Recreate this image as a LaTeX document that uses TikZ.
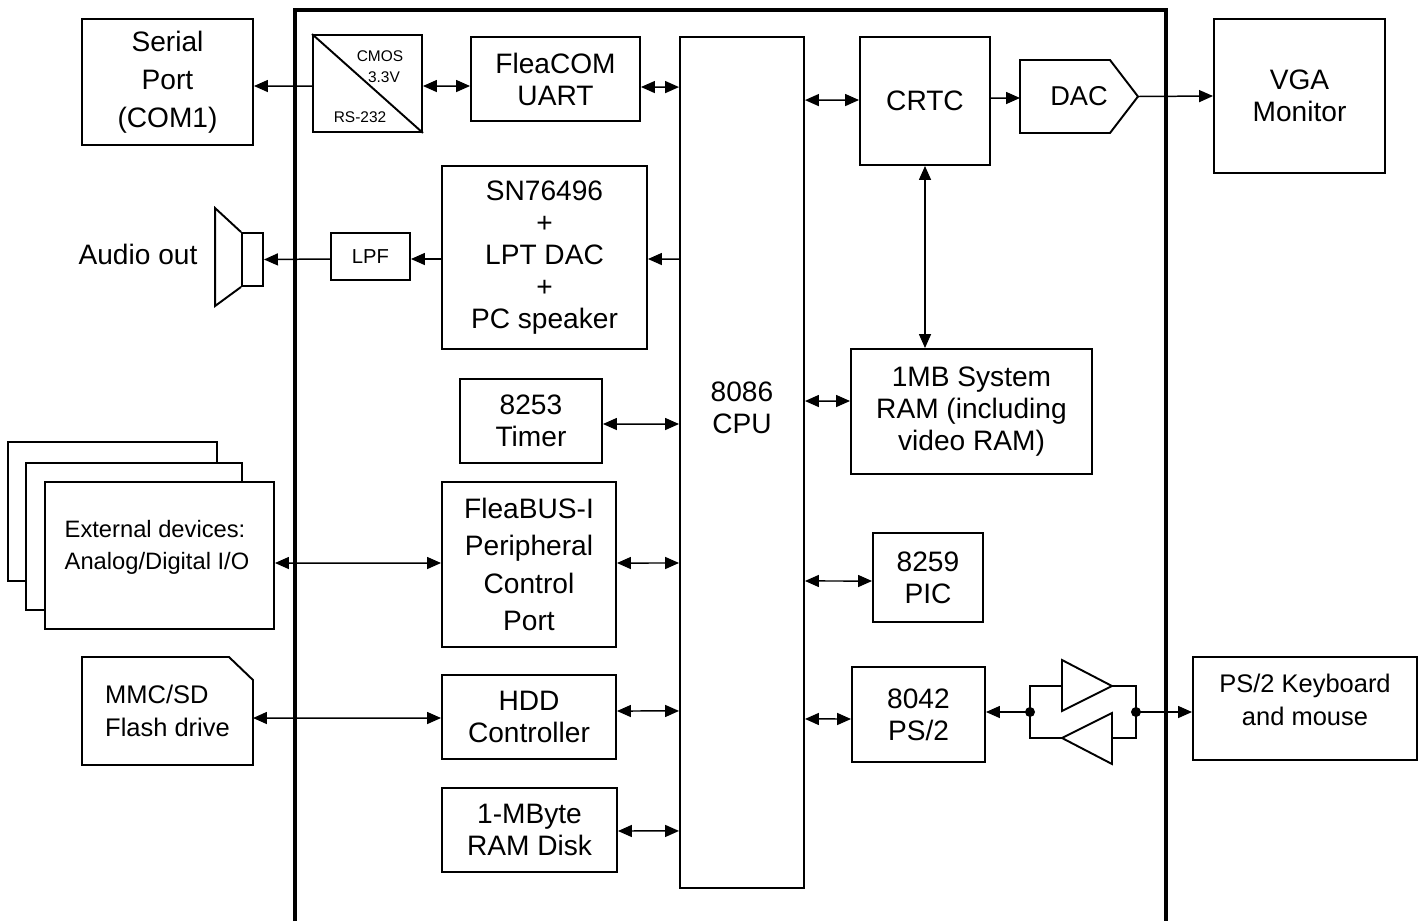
\documentclass[tikz,border=0pt]{standalone}
\usepackage{fontspec}
\setmainfont{Liberation Sans}
\usetikzlibrary{arrows.meta}
\tikzset{
  blk/.style={draw, line width=1.1pt, align=center, inner sep=0pt,
    font=\fontsize{16}{18.2}\selectfont},
  plain/.style={inner sep=0pt, outer sep=0pt, align=center},
  >={Triangle[length=0.28cm,width=0.24cm]},
}
\begin{document}
\begin{tikzpicture}[x=0.02cm,y=-0.02cm]
  \useasboundingbox (0,0) rectangle (1421,921);
  \draw[line width=0.08cm] (295,921) -- (295,10) -- (1166,10) -- (1166,921);
  \draw
    (167.5,82) node[blk, minimum width=3.42cm, minimum height=2.52cm,
      font=\fontsize{16}{21.5}\selectfont] (serial){Serial\\Port\\(COM1)}
    (367.5,83.5) node[blk, minimum width=2.18cm, minimum height=1.94cm] (shifter){}
    (380,56) node[plain, font=\fontsize{8.8}{10}\selectfont] (cmos){CMOS}
    (384,77) node[plain, font=\fontsize{8.8}{10}\selectfont] (volt){3.3V}
    (360,117) node[plain, font=\fontsize{8.8}{10}\selectfont] (rs){RS-232}
    (555.5,79) node[blk, minimum width=3.38cm, minimum height=1.68cm] (fleacom){FleaCOM\\UART}
    (742,462.5) node[blk, minimum width=2.48cm, minimum height=17.02cm] (cpu){}
    (742,408) node[plain, font=\fontsize{16}{18.2}\selectfont] (cputext){8086\\CPU}
    (925,101) node[blk, minimum width=2.6cm, minimum height=2.56cm] (crtc){CRTC}
    (1079,96.5) node[plain, minimum width=2.36cm, minimum height=1.46cm,
      font=\fontsize{15.5}{18}\selectfont] (dac){DAC}
    (1299.5,96) node[blk, minimum width=3.42cm, minimum height=3.08cm] (vga){VGA\\Monitor}
    (544.5,257.5) node[blk, minimum width=4.1cm, minimum height=3.66cm]
      (sn){SN76496\\+\\LPT DAC\\+\\PC speaker}
    (370.5,256.5) node[blk, minimum width=1.58cm, minimum height=0.94cm,
      font=\fontsize{11.5}{13}\selectfont] (lpf){LPF}
    (252.5,259.5) node[blk, minimum width=0.42cm, minimum height=1.06cm] (spk){}
    (138,254) node[plain, font=\fontsize{16}{18.2}\selectfont] (audio){Audio out}
    (971.5,411.5) node[blk, minimum width=4.82cm, minimum height=2.5cm]
      (ram){1MB System\\RAM (including\\video RAM)}
    (531,421) node[blk, minimum width=2.84cm, minimum height=1.68cm] (timer){8253\\Timer}
    (112.5,511.5) node[blk, fill=white, minimum width=4.18cm, minimum height=2.78cm] (extc){}
    (134,536.5) node[blk, fill=white, minimum width=4.32cm, minimum height=2.94cm] (extb){}
    (159.5,555.5) node[blk, fill=white, minimum width=4.58cm, minimum height=2.94cm] (ext){}
    (157,547) node[plain, align=left, font=\fontsize{13.5}{18.2}\selectfont]
      (exttext){External devices:\\Analog/Digital I/O}
    (529,564.5) node[blk, minimum width=3.48cm, minimum height=3.3cm,
      font=\fontsize{16}{21.3}\selectfont] (fleabus){FleaBUS-I\\Peripheral\\Control\\Port}
    (928,577.5) node[blk, minimum width=2.2cm, minimum height=1.78cm] (pic){8259\\PIC}
    (918.5,714.5) node[blk, minimum width=2.66cm, minimum height=1.9cm] (ps2ctl){8042\\PS/2}
    (1305,708.5) node[blk, minimum width=4.48cm, minimum height=2.06cm] (kbd){}
    (1305,699.5) node[plain, font=\fontsize{14.5}{18.7}\selectfont] (kbdtext){PS/2 Keyboard\\and mouse}
    (167.5,711) node[plain, minimum width=3.42cm, minimum height=2.16cm, align=left,
      font=\fontsize{14.5}{18.7}\selectfont] (mmc){MMC/SD\\Flash drive}
    (529,717) node[blk, minimum width=3.48cm, minimum height=1.68cm] (hdd){HDD\\Controller}
    (529.5,830) node[blk, minimum width=3.5cm, minimum height=1.68cm] (ramdisk){1-MByte\\RAM Disk};
  \draw[line width=1.1pt] (shifter.north west) -- (shifter.south east);
  \draw[line width=1.1pt] (dac.north west) -- ([xshift=-0.56cm]dac.north east) -- (dac.east)
    -- ([xshift=-0.56cm]dac.south east) -- (dac.south west) -- cycle;
  \draw[line width=1.1pt] (spk.north west) -- ++(-26,-24) -- ++(0,98) -- (spk.south west);
  \draw[line width=1.1pt] (mmc.south west) -- (mmc.north west) -- ([xshift=-0.48cm]mmc.north east)
    -- ([yshift=-0.46cm]mmc.north east) -- (mmc.south east) -- cycle;
  \coordinate (bufL) at (1030,712);
  \coordinate (bufR) at (1136,712);
  \coordinate (txin) at (1062,686);
  \coordinate (txout) at (1112,686);
  \coordinate (rxin) at (1112,738);
  \coordinate (rxout) at (1062,738);
  \draw[line width=1.1pt] (1062,660) -- (txout) -- (1062,711) -- cycle;
  \draw[line width=1.1pt] (1112,713) -- (rxout) -- (1112,764) -- cycle;
  \draw[line width=1.1pt] (bufL) |- (txin) (txout) -| (bufR) (bufL) |- (rxout) (rxin) -| (bufR);
  \fill (bufL) circle[radius=0.1cm] (bufR) circle[radius=0.1cm];
  \begin{scope}[line width=0.85pt]
    \draw[->] ([yshift=-0.05cm]shifter.west) to ([yshift=-0.08cm]serial.east);
    \draw[<->] ([yshift=-0.05cm]shifter.east) to ([yshift=-0.14cm]fleacom.west);
    \draw[<->] ([yshift=-0.16cm]fleacom.east) to ([yshift=7.51cm]cpu.west);
    \draw[<->] ([yshift=7.25cm]cpu.east) to ([yshift=0.02cm]crtc.west);
    \draw[->] ([yshift=0.06cm]crtc.east) to ([yshift=-0.03cm]dac.west);
    \draw[->] (dac.east) to (vga.west);
    \draw[->] ([yshift=4.07cm]cpu.west) to ([yshift=-0.03cm]sn.east);
    \draw[->] ([yshift=-0.03cm]sn.west) to ([yshift=-0.05cm]lpf.east);
    \draw[->] ([yshift=-0.05cm]lpf.west) to (spk.east);
    \draw[<->] (crtc.south) to (crtc.south |- ram.north);
    \draw[<->] ([yshift=1.23cm]cpu.east) to ([yshift=0.21cm]ram.west);
    \draw[<->] ([yshift=-0.06cm]timer.east) to ([yshift=0.77cm]cpu.west);
    \draw[<->] ([yshift=-0.15cm]ext.east) to ([yshift=0.03cm]fleabus.west);
    \draw[<->] ([yshift=0.03cm]fleabus.east) to ([yshift=-2.01cm]cpu.west);
    \draw[<->] ([yshift=-2.37cm]cpu.east) to ([yshift=-0.07cm]pic.west);
    \draw[<->] ([yshift=-5.13cm]cpu.east) to ([yshift=-0.09cm]ps2ctl.west);
    \draw[->] (bufL) to (bufL -| ps2ctl.east);
    \draw[->] (bufR) to (bufR -| kbd.west);
    \draw[<->] ([yshift=-0.14cm]mmc.east) to ([yshift=-0.02cm]hdd.west);
    \draw[<->] ([yshift=0.12cm]hdd.east) to ([yshift=-4.97cm]cpu.west);
    \draw[<->] ([yshift=-0.02cm]ramdisk.east) to ([yshift=-7.37cm]cpu.west);
  \end{scope}
\end{tikzpicture}
\end{document}
